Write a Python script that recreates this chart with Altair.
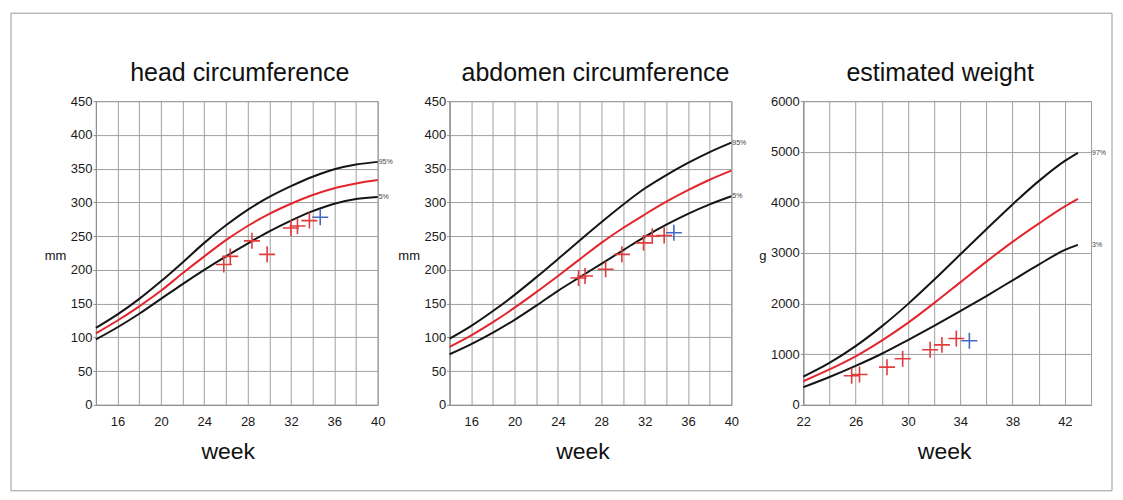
import altair as alt
import pandas as pd

# ---------------- data ----------------
# head circumference (mm)
hc_weeks = [14, 16, 18, 20, 22, 24, 26, 28, 30, 32, 34, 36, 38, 40]
hc_p95 = [114, 134, 157, 183, 211, 240, 266, 289, 308, 324, 338, 349, 356, 360]
hc_p50 = [106, 125, 146, 169, 195, 220, 244, 265, 283, 298, 311, 321, 328, 333]
hc_p5 = [97, 115, 135, 157, 179, 200, 220, 239, 257, 273, 287, 298, 305, 308]
hc_meas_week = [25.8, 26.4, 28.4, 29.8, 32.0, 32.6, 33.7, 34.7]
hc_meas_val = [208, 220, 243, 223, 262, 265, 273, 278]

# abdomen circumference (mm)
ac_weeks = [14, 16, 18, 20, 22, 24, 26, 28, 30, 32, 34, 36, 38, 40]
ac_p95 = [98, 117, 139, 163, 189, 216, 243.5, 270.5, 296.5, 320.5, 340.5, 358.5, 374.5, 388.5]
ac_p50 = [86, 103, 122.5, 144, 167, 191, 215.5, 240, 262, 282, 301, 318, 333.5, 347]
ac_p5 = [75, 90, 107, 126, 147, 169, 189, 209, 229, 249, 267, 283, 297, 309]
ac_meas_week = [25.9, 26.5, 28.4, 29.9, 31.9, 32.7, 33.8, 34.7]
ac_meas_val = [188, 191, 201, 223, 240, 250, 251, 255]

# estimated weight (g)
ew_weeks = [22, 24, 26, 28, 30, 32, 34, 36, 38, 40, 42, 43]
ew_p97 = [559, 830, 1160, 1550, 1990, 2470, 2970, 3470, 3960, 4420, 4820, 4980]
ew_p50 = [467, 700, 960, 1270, 1620, 2010, 2420, 2830, 3220, 3580, 3920, 4070]
ew_p3 = [348, 550, 770, 1010, 1280, 1560, 1850, 2150, 2460, 2770, 3060, 3160]
ew_meas_week = [25.7, 26.3, 28.4, 29.6, 31.7, 32.6, 33.7, 34.7]
ew_meas_val = [575, 600, 745, 910, 1090, 1185, 1310, 1265]

meas_colors = ["#e23b3b"] * 7 + ["#4468c4"]

FONT = "Liberation Sans"
CROSS = "M-1,0L1,0M0,-1L0,1"
GRID = "#a0a0a0"
EDGE = "#8f8f8f"


def make_panel(title, title_x, weeks, hi, mid, lo, hi_lbl, lo_lbl, lbl_x,
               m_w, m_v, xdom, xvals, label_mod, ydom, yvals, ytitle,
               width, week_x, frame=False):
    n = len(weeks)
    curves = pd.DataFrame({
        "week": weeks * 3,
        "value": hi + mid + lo,
        "series": ["hi"] * n + ["mid"] * n + ["lo"] * n,
    })
    meas = pd.DataFrame({"week": m_w, "value": m_v, "c": meas_colors})
    lbls = pd.DataFrame({"week": [lbl_x, lbl_x], "value": [hi[-1], lo[-1]],
                         "text": [hi_lbl, lo_lbl]})

    x = alt.X("week:Q",
              scale=alt.Scale(domain=xdom, nice=False, zero=False),
              axis=alt.Axis(values=xvals,
                            labelExpr=f"datum.value % 4 == {label_mod} ? datum.label : ''",
                            labelFlush=False, labelOverlap=False,
                            title="week", titleX=week_x, titleY=54,
                            titleBaseline="alphabetic", titleAlign="center"))
    y = alt.Y("value:Q",
              scale=alt.Scale(domain=ydom, nice=False, zero=False),
              axis=alt.Axis(values=yvals, format="d", title=ytitle, titleAngle=0,
                            titleX=-41, titleY=155, titleAlign="center",
                            titleBaseline="middle", tickSize=3,
                            labelPadding=1, labelOverlap=False))

    lines = alt.Chart(curves).mark_line(strokeWidth=2, interpolate="monotone").encode(
        x=x, y=y,
        color=alt.Color("series:N",
                        scale=alt.Scale(domain=["hi", "mid", "lo"],
                                        range=["#151515", "#e3262d", "#151515"]),
                        legend=None),
    )
    crosses = alt.Chart(meas).mark_point(shape=CROSS, size=256, filled=False,
                                         strokeWidth=1.6, opacity=1).encode(
        x=x, y=y, color=alt.Color("c:N", scale=None))
    texts = alt.Chart(lbls).mark_text(align="left", dx=1, fontSize=7,
                                      color="#444", font=FONT).encode(
        x=x, y=y, text="text:N")
    ttl = alt.Chart(pd.DataFrame({"t": [title]})).mark_text(
        align="center", baseline="alphabetic", fontSize=25, font=FONT,
        color="#111").encode(x=alt.value(title_x), y=alt.value(-20), text="t:N")

    layers = [lines, crosses, texts, ttl]
    if frame:
        fr = alt.Chart(pd.DataFrame({"k": [0]})).mark_rect(
            fillOpacity=0, stroke="#9a9a9a", strokeWidth=1).encode(
            x=alt.value(-85), x2=alt.value(1017),
            y=alt.value(-88), y2=alt.value(390))
        layers = [fr] + layers

    return alt.layer(*layers).properties(width=width, height=304)


p1 = make_panel("head circumference", 144, hc_weeks, hc_p95, hc_p50, hc_p5,
                "95%", "5%", 40, hc_meas_week, hc_meas_val,
                [14, 40], list(range(14, 41, 2)), 0,
                [0, 450], list(range(0, 451, 50)), "mm", 282, 132, frame=True)
p2 = make_panel("abdomen circumference", 146, ac_weeks, ac_p95, ac_p50, ac_p5,
                "95%", "5%", 40, ac_meas_week, ac_meas_val,
                [14, 40], list(range(14, 41, 2)), 0,
                [0, 450], list(range(0, 451, 50)), "mm", 282, 133)
p3 = make_panel("estimated weight", 137, ew_weeks, ew_p97, ew_p50, ew_p3,
                "97%", "3%", 44, ew_meas_week, ew_meas_val,
                [22, 44], list(range(22, 45, 2)), 2,
                [0, 6000], list(range(0, 6001, 1000)), "g", 288, 141)

chart = alt.hconcat(p1, p2, p3, spacing=72, bounds="flush").properties(
    padding={"left": 2, "top": 4, "right": 2, "bottom": 2}
).configure_view(
    stroke=EDGE, strokeWidth=1
).configure_axis(
    grid=True, gridColor=GRID, gridWidth=1,
    domainColor=EDGE, tickColor=EDGE,
    labelFont=FONT, labelFontSize=13, labelColor="#1a1a1a",
    titleFont=FONT, titleFontWeight="normal", titleColor="#111",
).configure_axisX(
    ticks=False, tickSize=0, labelPadding=11, titleFontSize=23,
).configure_axisY(
    titleFontSize=13,
)

chart.save("out.html", embed_options={"renderer": "svg", "actions": False})
